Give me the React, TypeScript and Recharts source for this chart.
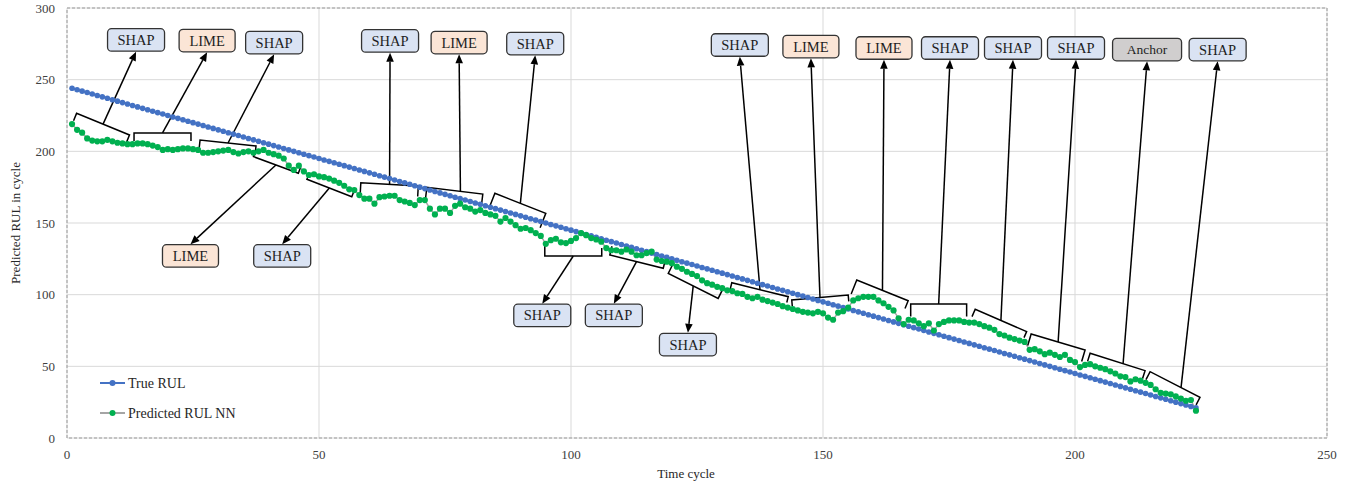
import React from 'react';
import {
  LineChart,
  Line,
  XAxis,
  YAxis,
  CartesianGrid,
  Legend,
  ReferenceLine,
  ReferenceDot,
  ReferenceArea
} from 'recharts';

// time cycles on the x axis
const CYCLES = [
  1, 2, 3, 4, 5, 6, 7, 8, 9, 10, 11, 12, 13, 14, 15, 16, 17, 18, 19, 20,
  21, 22, 23, 24, 25, 26, 27, 28, 29, 30, 31, 32, 33, 34, 35, 36, 37, 38, 39, 40,
  41, 42, 43, 44, 45, 46, 47, 48, 49, 50, 51, 52, 53, 54, 55, 56, 57, 58, 59, 60,
  61, 62, 63, 64, 65, 66, 67, 68, 69, 70, 71, 72, 73, 74, 75, 76, 77, 78, 79, 80,
  81, 82, 83, 84, 85, 86, 87, 88, 89, 90, 91, 92, 93, 94, 95, 96, 97, 98, 99, 100,
  101, 102, 103, 104, 105, 106, 107, 108, 109, 110, 111, 112, 113, 114, 115, 116, 117, 118, 119, 120,
  121, 122, 123, 124, 125, 126, 127, 128, 129, 130, 131, 132, 133, 134, 135, 136, 137, 138, 139, 140,
  141, 142, 143, 144, 145, 146, 147, 148, 149, 150, 151, 152, 153, 154, 155, 156, 157, 158, 159, 160,
  161, 162, 163, 164, 165, 166, 167, 168, 169, 170, 171, 172, 173, 174, 175, 176, 177, 178, 179, 180,
  181, 182, 183, 184, 185, 186, 187, 188, 189, 190, 191, 192, 193, 194, 195, 196, 197, 198, 199, 200,
  201, 202, 203, 204, 205, 206, 207, 208, 209, 210, 211, 212, 213, 214, 215, 216, 217, 218, 219, 220,
  221, 222, 223, 224
];

const TRUE_RUL = [
  244, 243, 242, 241, 240, 239, 238, 237, 236, 235, 234, 233, 232, 231, 230, 229, 228, 227, 226, 225,
  224, 223, 222, 221, 220, 219, 218, 217, 216, 215, 214, 213, 212, 211, 210, 209, 208, 207, 206, 205,
  204, 203, 202, 201, 200, 199, 198, 197, 196, 195, 194, 193, 192, 191, 190, 189, 188, 187, 186, 185,
  184, 183, 182, 181, 180, 179, 178, 177, 176, 175, 174, 173, 172, 171, 170, 169, 168, 167, 166, 165,
  164, 163, 162, 161, 160, 159, 158, 157, 156, 155, 154, 153, 152, 151, 150, 149, 148, 147, 146, 145,
  144, 143, 142, 141, 140, 139, 138, 137, 136, 135, 134, 133, 132, 131, 130, 129, 128, 127, 126, 125,
  124, 123, 122, 121, 120, 119, 118, 117, 116, 115, 114, 113, 112, 111, 110, 109, 108, 107, 106, 105,
  104, 103, 102, 101, 100, 99, 98, 97, 96, 95, 94, 93, 92, 91, 90, 89, 88, 87, 86, 85,
  84, 83, 82, 81, 80, 79, 78, 77, 76, 75, 74, 73, 72, 71, 70, 69, 68, 67, 66, 65,
  64, 63, 62, 61, 60, 59, 58, 57, 56, 55, 54, 53, 52, 51, 50, 49, 48, 47, 46, 45,
  44, 43, 42, 41, 40, 39, 38, 37, 36, 35, 34, 33, 32, 31, 30, 29, 28, 27, 26, 25,
  24, 23, 22, 21
];

const PRED_RUL = [
  219, 215, 213, 209, 207.5, 207, 207, 208, 207, 206,
  205.5, 205, 205, 205.5, 205.5, 205, 204, 203, 201, 201.5,
  201, 201.5, 202, 202, 201.5, 201, 199, 199, 199.5, 200,
  200.5, 201, 199.5, 198.5, 199.5, 200, 199, 200, 201, 199,
  198, 197, 195, 190, 187, 190, 186, 183.5, 184, 182.5,
  182, 181, 179.5, 178, 176, 173.5, 173, 169.5, 167, 167,
  163.5, 168, 168.5, 169, 169, 166, 165, 164, 162.5, 166,
  166, 160, 156, 160, 160, 157, 162, 163.5, 161, 160,
  158, 159, 157, 156, 155, 151, 153.5, 151, 148.5, 146,
  146.5, 145, 143, 141, 135.5, 138, 139, 136.5, 136, 137.5,
  139.5, 143, 141.5, 139.5, 138.5, 137, 132.5, 131, 131, 130,
  131.5, 130, 127.5, 127.5, 129, 130, 124.5, 123.5, 123, 122,
  119.5, 118, 116, 114.5, 113, 110, 108, 107, 105.5, 104.5,
  103, 102.5, 101, 100.5, 98.5, 97.5, 98.5, 96.5, 95.5, 94.5,
  93.5, 92, 91, 90, 89, 88, 87.5, 87, 88, 87,
  84, 82.5, 87.5, 88.5, 91, 96, 97.5, 98.5, 98.5, 98.5,
  96, 94, 91.5, 89, 83.5, 79.5, 82.5, 82, 80, 78,
  80, 75, 79.5, 81, 82, 82, 82, 81, 80.5, 80.5,
  79.5, 78, 77, 75.5, 72.5, 71.5, 70, 69, 68, 67,
  61.5, 62, 60.5, 58.5, 59.5, 58, 56.5, 58, 54.5, 53,
  49.5, 51, 51.5, 50, 49, 48, 46.5, 45, 43, 42.5,
  39.5, 41, 40, 38.5, 37, 34, 31.5, 31, 30.5, 29,
  27.5, 26, 26.5, 19
];

const X_TICKS = [0, 50, 100, 150, 200, 250];
const Y_TICKS = [0, 50, 100, 150, 200, 250, 300];

const LEGEND_ITEMS = [
  { name: 'True RUL', line: '#4472c4', dot: '#4472c4' },
  { name: 'Predicted RUL NN', line: '#a5a5a5', dot: '#00b050' }
];

// explanation callouts: bracket over a stretch of the curve, arrow to a labelled box
const ANNOTATIONS = [
  { label: 'SHAP', x1: 1.9, y1: 226.5, x2: 12.4, y2: 211.4, dir: 'down', tk: [8, 8], bx: 13.7, by: 277.7 },
  { label: 'LIME', x1: 13.3, y1: 212.8, x2: 24.6, y2: 212.8, dir: 'down', tk: [8, 8], bx: 27.8, by: 277.3 },
  { label: 'SHAP', x1: 26.4, y1: 207.9, x2: 37.5, y2: 203.7, dir: 'down', tk: [8, 7], bx: 41.1, by: 275.9 },
  { label: 'LIME', x1: 37.0, y1: 196.3, x2: 45.9, y2: 184.7, dir: 'up', tk: [6.5, 6], bx: 24.5, by: 127 },
  { label: 'SHAP', x1: 47.6, y1: 180.5, x2: 56.5, y2: 168.3, dir: 'up', tk: [6, 6], bx: 42.7, by: 127 },
  { label: 'SHAP', x1: 58.3, y1: 178.1, x2: 69.7, y2: 175.8, dir: 'down', tk: [12, 10.5], bx: 64.1, by: 277 },
  { label: 'LIME', x1: 71.4, y1: 174.9, x2: 82.5, y2: 170.2, dir: 'down', tk: [11, 9.5], bx: 77.8, by: 275.9, at: 0.6 },
  { label: 'SHAP', x1: 84.9, y1: 170.7, x2: 95.0, y2: 156.7, dir: 'down', tk: [15.5, 15.5], bx: 92.9, by: 275.2 },
  { label: 'SHAP', x1: 94.8, y1: 127, x2: 106.1, y2: 127, dir: 'up', tk: [11, 8], bx: 94.3, by: 85.5 },
  { label: 'SHAP', x1: 107.7, y1: 127.7, x2: 118.3, y2: 118.4, dir: 'up', tk: [9, 7.5], bx: 108.5, by: 85.5 },
  { label: 'SHAP', x1: 119.3, y1: 114.9, x2: 129.2, y2: 97.4, dir: 'up', tk: [9, 10], bx: 123.2, by: 65.2 },
  { label: 'SHAP', x1: 131.9, y1: 108.3, x2: 143.1, y2: 98.6, dir: 'down', tk: [6.5, 6], bx: 133.5, by: 274.2 },
  { label: 'LIME', x1: 143.8, y1: 96.3, x2: 155.0, y2: 99.8, dir: 'down', tk: [6, 6.5], bx: 147.6, by: 273.1 },
  { label: 'LIME', x1: 156.7, y1: 110.2, x2: 166.9, y2: 95.8, dir: 'down', tk: [15, 8.5], bx: 162.1, by: 272.1 },
  { label: 'SHAP', x1: 167.4, y1: 93.5, x2: 178.5, y2: 93.5, dir: 'down', tk: [12.5, 12.5], bx: 175.2, by: 272.1 },
  { label: 'SHAP', x1: 180.2, y1: 89.8, x2: 190.4, y2: 74.2, dir: 'down', tk: [8, 6.5], bx: 187.7, by: 272.1 },
  { label: 'SHAP', x1: 191.3, y1: 72.6, x2: 202.0, y2: 61.4, dir: 'down', tk: [12, 12], bx: 200.2, by: 272.1 },
  { label: 'Anchor', x1: 203.0, y1: 59.1, x2: 213.9, y2: 47.0, dir: 'down', tk: [8.5, 8.5], bx: 214.3, by: 271, at: 0.6 },
  { label: 'SHAP', x1: 214.9, y1: 46.3, x2: 224.8, y2: 28.4, dir: 'down', tk: [9, 8.5], bx: 228.3, by: 271, at: 0.62 }
];

const BOX_STYLE: Record<string, { fill: string; w: number }> = {
  SHAP: { fill: '#dae3f3', w: 57 },
  LIME: { fill: '#fbe5d6', w: 56 },
  Anchor: { fill: '#d0cece', w: 69 }
};
const BOX_H = 22.5;
const FONT = '"Liberation Serif", "Times New Roman", serif';

const data = CYCLES.map((cycle, i) => ({ cycle, trueRul: TRUE_RUL[i], pred: PRED_RUL[i] }));

const Bracket = ({ x1, y1, x2, y2, dir, tk }: any) => {
  const dx = x2 - x1;
  const dy = y2 - y1;
  const len = Math.hypot(dx, dy) || 1;
  let nx = -dy / len;
  let ny = dx / len;
  if ((dir === 'down' && ny < 0) || (dir === 'up' && ny > 0)) {
    nx = -nx;
    ny = -ny;
  }
  const d = `M${x1 + nx * tk[0]},${y1 + ny * tk[0]} L${x1},${y1} L${x2},${y2} L${x2 + nx * tk[1]},${y2 + ny * tk[1]}`;
  return <path d={d} fill="none" stroke="#000" strokeWidth={1.5} />;
};

// arrow from the bracket to the middle of the facing edge of the box
const Arrow = ({ x1, y1, x2, y2 }: any) => {
  const ex = x2;
  const ey = y2 < y1 ? y2 + BOX_H / 2 + 0.5 : y2 - BOX_H / 2 - 0.5;
  const len = Math.hypot(ex - x1, ey - y1) || 1;
  const ux = (ex - x1) / len;
  const uy = (ey - y1) / len;
  const L = 9;
  const W = 3.8;
  const bx = ex - ux * L;
  const by = ey - uy * L;
  return (
    <g>
      <line x1={x1} y1={y1} x2={bx} y2={by} stroke="#000" strokeWidth={1.5} />
      <path d={`M${ex},${ey} L${bx - uy * W},${by + ux * W} L${bx + uy * W},${by - ux * W} Z`} fill="#000" />
    </g>
  );
};

const Box = ({ cx, cy, label }: any) => {
  const st = BOX_STYLE[label];
  return (
    <g>
      <rect x={cx - st.w / 2} y={cy - BOX_H / 2} width={st.w} height={BOX_H} rx={4}
        fill={st.fill} stroke="#333" strokeWidth={1.3} />
      <text x={cx} y={cy} textAnchor="middle" dominantBaseline="central"
        fontSize={label === 'Anchor' ? 13.5 : 14.5} fontFamily={FONT} fill="#1e1e1e">{label}</text>
    </g>
  );
};

const LegendBox = () => (
  <svg width={200} height={50} style={{ display: 'block' }}>
    {LEGEND_ITEMS.map((it, i) => (
      <g key={it.name} transform={`translate(0, ${8 + i * 30})`}>
        <line x1={0} x2={25} y1={0} y2={0} stroke={it.line} strokeWidth={2} />
        <circle cx={12.5} cy={0} r={3} fill={it.dot} />
        <text x={28} y={0} dominantBaseline="central" fontSize={14} fontFamily={FONT} fill="#262626">{it.name}</text>
      </g>
    ))}
  </svg>
);

const YTitle = (props: any) => {
  const { x, y, height } = props.viewBox;
  const cx = x - 2;
  const cy = y + height / 2;
  return (
    <text x={cx} y={cy} transform={`rotate(-90, ${cx}, ${cy})`} textAnchor="middle"
      dominantBaseline="central" fontSize={13} fontFamily={FONT} fill="#262626">
      Predicted RUL in cycle
    </text>
  );
};

const XTitle = (props: any) => {
  const { x, y, width, height } = props.viewBox;
  return (
    <text x={x + width / 2 - 11} y={y + height + 5} textAnchor="middle"
      dominantBaseline="central" fontSize={13} fontFamily={FONT} fill="#262626">
      Time cycle
    </text>
  );
};

export default function App() {
  const tickStyle = { fontSize: 13, fontFamily: FONT, fill: '#404040' };
  return (
    <div style={{ position: 'absolute', left: 0, top: 0, width: 1351, height: 484, background: '#fff' }}>
      <LineChart width={1351} height={484} data={data} margin={{ top: 8, right: 24, left: 17, bottom: 16 }}>
        <CartesianGrid stroke="#d9d9d9" />
        <XAxis
          dataKey="cycle"
          type="number"
          domain={[0, 250]}
          ticks={X_TICKS}
          axisLine={false}
          tickLine={false}
          tickSize={0}
          tickMargin={12}
          height={30}
          tick={tickStyle}
          label={XTitle}
        />
        <YAxis
          type="number"
          domain={[0, 300]}
          ticks={Y_TICKS}
          axisLine={false}
          tickLine={false}
          tickSize={0}
          tickMargin={12}
          width={50}
          tick={tickStyle}
          label={YTitle}
        />
        <ReferenceArea x1={0} x2={250} y1={0} y2={300} fill="none" stroke="#9a9a9a"
          strokeDasharray="3 2" ifOverflow="visible" />
        <Line
          dataKey="trueRul"
          name="True RUL"
          stroke="#4472c4"
          strokeWidth={2}
          dot={{ r: 2.8, fill: '#4472c4', stroke: '#4472c4', strokeWidth: 0 }}
          isAnimationActive={false}
        />
        <Line
          dataKey="pred"
          name="Predicted RUL NN"
          stroke="#a5a5a5"
          strokeWidth={1.5}
          dot={{ r: 3.1, fill: '#00b050', stroke: '#00b050', strokeWidth: 0 }}
          isAnimationActive={false}
        />
        {ANNOTATIONS.map((a, i) => (
          <ReferenceLine
            key={`br-${i}`}
            segment={[{ x: a.x1, y: a.y1 }, { x: a.x2, y: a.y2 }]}
            ifOverflow="visible"
            shape={(p: any) => <Bracket {...p} dir={a.dir} tk={a.tk} />}
          />
        ))}
        {ANNOTATIONS.map((a, i) => {
          const t = a.at ?? 0.5;
          const sx = a.x1 + (a.x2 - a.x1) * t;
          const sy = a.y1 + (a.y2 - a.y1) * t;
          return (
            <ReferenceLine
              key={`ar-${i}`}
              segment={[{ x: sx, y: sy }, { x: a.bx, y: a.by }]}
              ifOverflow="visible"
              shape={(p: any) => <Arrow {...p} />}
            />
          );
        })}
        {ANNOTATIONS.map((a, i) => (
          <ReferenceDot
            key={`bx-${i}`}
            x={a.bx}
            y={a.by}
            ifOverflow="visible"
            shape={(p: any) => <Box {...p} label={a.label} />}
          />
        ))}
        <Legend
          layout="vertical"
          align="center"
          verticalAlign="middle"
          content={LegendBox}
          wrapperStyle={{ left: 100, top: 375, width: 200, height: 50 }}
        />
      </LineChart>
    </div>
  );
}
